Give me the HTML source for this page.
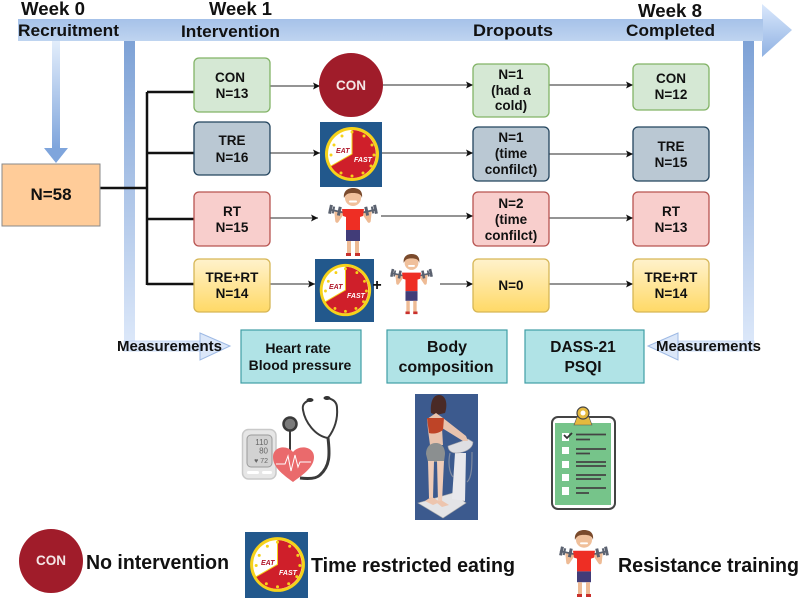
<!DOCTYPE html>
<html><head><meta charset="utf-8"><style>
html,body{margin:0;padding:0;background:#fff}
svg{display:block;filter:blur(.35px)}
text{font-family:"Liberation Sans",sans-serif;font-weight:700;fill:#111}
.b{font-size:13.5px;text-anchor:middle}
.h{font-size:17px}
.e{font-size:7px;font-style:italic;fill:#b0182a}
.f{font-size:7px;font-style:italic;fill:#fff}
</style></head><body>
<svg width="800" height="600" viewBox="0 0 800 600" xmlns="http://www.w3.org/2000/svg">
<defs>
<linearGradient id="ah" x1="0" y1="0" x2="0" y2="1"><stop offset="0" stop-color="#dae8fc"/><stop offset="1" stop-color="#8fb1e2"/></linearGradient>
<linearGradient id="ab" x1="0" y1="0" x2="0" y2="1"><stop offset="0" stop-color="#a6c2e9"/><stop offset="1" stop-color="#bfd4f0"/></linearGradient>
<linearGradient id="vd" x1="0" y1="0" x2="0" y2="1"><stop offset="0" stop-color="#e2edfb"/><stop offset="1" stop-color="#7fa5dc"/></linearGradient>
<linearGradient id="vb" x1="0" y1="0" x2="0" y2="1"><stop offset="0" stop-color="#7ea2d6"/><stop offset="1" stop-color="#dbe7f9"/></linearGradient>
<linearGradient id="y" x1="0" y1="0" x2="0" y2="1"><stop offset="0" stop-color="#fff2cc"/><stop offset="1" stop-color="#ffd966"/></linearGradient>
<marker id="m" markerWidth="8" markerHeight="8" refX="7" refY="3.500" orient="auto" markerUnits="userSpaceOnUse"><path d="M0 0L7 3.500L0 7L1.500 3.500Z" fill="#111"/></marker>
<symbol id="clock" viewBox="0 0 62 65" preserveAspectRatio="none">
<rect width="62" height="65" fill="#22588c"/>
<circle cx="32" cy="32" r="27" fill="#f6d21a"/>
<circle cx="32" cy="32" r="24" fill="#fff"/>
<path d="M32 32V8A24 24 0 1 1 11 44Z" fill="#cf1f2a"/>
<g fill="#f6d21a"><circle cx="44" cy="14" r="1.500"/><circle cx="52" cy="23" r="1.500"/><circle cx="54" cy="33" r="1.500"/><circle cx="51" cy="44" r="1.500"/><circle cx="43" cy="51" r="1.500"/><circle cx="32" cy="54" r="1.500"/><circle cx="21" cy="51" r="1.500"/><circle cx="22" cy="14" r="1.500"/><circle cx="14" cy="23" r="1.500"/><circle cx="11" cy="33" r="1.500"/><circle cx="32" cy="10" r="1.500"/></g>
<path d="M32 8V32L11 44" fill="none" stroke="#f6d21a" stroke-width="1"/>
</symbol>
<symbol id="man" viewBox="0 0 50 69" preserveAspectRatio="none">
<path d="M15 24L9 33L8 23M35 24L41 33L42 23" fill="none" stroke="#eebb95" stroke-width="3.500" stroke-linejoin="round"/>
<g fill="#5b6270" transform="rotate(12 8 22)"><rect x="1" y="22" width="14" height="1.800"/><rect x="1" y="18" width="3" height="9"/><rect x="4.500" y="19" width="2" height="7"/><rect x="10" y="18" width="3" height="9"/></g>
<g fill="#5b6270" transform="rotate(-12 42 22)"><rect x="35" y="22" width="14" height="1.800"/><rect x="37" y="18" width="3" height="9"/><rect x="43.500" y="19" width="2" height="7"/><rect x="46" y="18" width="3" height="9"/></g>
<path d="M14 21H36L35 28L32 29V42H18V29L15 28Z" fill="#ee2e24"/>
<path d="M18 42H32L32 53H18Z" fill="#413c78"/>
<path d="M21 53V65M29 53V65" stroke="#eebb95" stroke-width="4"/>
<path d="M18 65H23V68H18ZM27 65H32V68H27Z" fill="#c9302c"/>
<circle cx="25" cy="10" r="8" fill="#f0c09b"/>
<path d="M16 10C15 3 20 0 25 0C31 0 35 3 34 10C33 6 30 5 25 5C20 5 18 6 16 10Z" fill="#7a4a2c"/>
<rect x="21" y="12.500" width="8" height="2" rx="1" fill="#fff"/>
</symbol>
</defs>

<!-- main arrow -->
<path d="M762 4L792 30L762 57Z" fill="url(#ah)"/>
<rect x="18" y="19" width="745" height="22" fill="url(#ab)"/>
<!-- recruit arrow -->
<rect x="52" y="41" width="8" height="107" fill="url(#vd)"/>
<path d="M44 148H68L56 163Z" fill="#7fa5dc"/>
<!-- left/right measurement bars -->
<rect x="124" y="41" width="11" height="300" fill="url(#vb)"/>
<rect x="124" y="341" width="76" height="10" fill="#dbe7f9" stroke="#b9cff0" stroke-width=".7"/>
<path d="M200 333L230 346L200 360Z" fill="#dbe7f9" stroke="#9db9e4"/>
<rect x="743" y="41" width="11" height="300" fill="url(#vb)"/>
<rect x="678" y="341" width="76" height="10" fill="#dbe7f9" stroke="#b9cff0" stroke-width=".7"/>
<path d="M678 333L648 346L678 360Z" fill="#dbe7f9" stroke="#9db9e4"/>

<!-- thick connectors -->
<g stroke="#111" stroke-width="2.500" fill="none">
<path d="M100 188H147M147 92V285M147 92H194M147 153H194M147 219H194M147 284H194"/>
</g>
<!-- thin connectors -->
<g stroke="#555" stroke-width="1.200" fill="none">
<path d="M270 86H320" marker-end="url(#m)"/><path d="M383 85H473" marker-end="url(#m)"/><path d="M549 85H633" marker-end="url(#m)"/>
<path d="M270 153H320" marker-end="url(#m)"/><path d="M382 153H473" marker-end="url(#m)"/><path d="M549 154H633" marker-end="url(#m)"/>
<path d="M270 218H318" marker-end="url(#m)"/><path d="M381 216H473" marker-end="url(#m)"/><path d="M549 218H633" marker-end="url(#m)"/>
<path d="M270 284H315" marker-end="url(#m)"/><path d="M440 284H473" marker-end="url(#m)"/><path d="M549 284H633" marker-end="url(#m)"/>
</g>

<!-- N=58 -->
<rect x="2" y="164" width="98" height="62" fill="#ffcc99" stroke="#8a8a8a"/>
<text x="51" y="200" style="font-size:17px;text-anchor:middle">N=58</text>

<!-- boxes -->
<g stroke-width="1.300">
<rect x="194" y="58" width="76" height="54" rx="5" fill="#d5e8d4" stroke="#82b366"/>
<rect x="194" y="122" width="76" height="53" rx="5" fill="#bac8d3" stroke="#23445d"/>
<rect x="194" y="192" width="76" height="54" rx="5" fill="#f8cecc" stroke="#b85450"/>
<rect x="194" y="259" width="76" height="53" rx="5" fill="url(#y)" stroke="#d6b656"/>
<rect x="473" y="64" width="76" height="53" rx="5" fill="#d5e8d4" stroke="#82b366"/>
<rect x="473" y="127" width="76" height="54" rx="5" fill="#bac8d3" stroke="#23445d"/>
<rect x="473" y="192" width="76" height="54" rx="5" fill="#f8cecc" stroke="#b85450"/>
<rect x="473" y="259" width="76" height="53" rx="5" fill="url(#y)" stroke="#d6b656"/>
<rect x="633" y="64" width="76" height="46" rx="5" fill="#d5e8d4" stroke="#82b366"/>
<rect x="633" y="127" width="76" height="54" rx="5" fill="#bac8d3" stroke="#23445d"/>
<rect x="633" y="192" width="76" height="54" rx="5" fill="#f8cecc" stroke="#b85450"/>
<rect x="633" y="259" width="76" height="53" rx="5" fill="url(#y)" stroke="#d6b656"/>
</g>
<g stroke="#3f9ea5" stroke-width="1.200" fill="#b0e3e6">
<rect x="241" y="330" width="120" height="53"/>
<rect x="387" y="330" width="120" height="53"/>
<rect x="525" y="330" width="119" height="53"/>
</g>

<!-- icons -->
<circle cx="351" cy="85" r="32" fill="#a01c2a"/>
<text x="351" y="90" style="font-size:13.500px;text-anchor:middle;fill:#f4e6e6">CON</text>
<use href="#clock" x="320" y="122" width="62" height="65"/>
<text class="e" x="336" y="153">EAT</text><text class="f" x="354" y="162">FAST</text>
<use href="#man" x="328" y="188" width="50" height="69"/>
<use href="#clock" x="315" y="259" width="59" height="63"/>
<text class="e" x="329" y="289">EAT</text><text class="f" x="347" y="298">FAST</text>
<text x="377" y="290" style="font-size:16px;text-anchor:middle">+</text>
<use href="#man" x="390" y="254" width="43" height="61"/>

<circle cx="51" cy="561" r="32" fill="#a01c2a"/>
<text x="51" y="565" style="font-size:13.500px;text-anchor:middle;fill:#f4e6e6">CON</text>
<use href="#clock" x="245" y="532" width="63" height="66"/>
<text class="e" x="261" y="565">EAT</text><text class="f" x="279" y="575">FAST</text>
<use href="#man" x="559" y="530" width="50" height="68"/>

<!-- BP monitor + stethoscope -->
<rect x="242.500" y="429.500" width="33.500" height="49.500" rx="6" fill="#e6e6e6" stroke="#c9c9c9" stroke-width="1.500"/>
<rect x="247" y="435" width="25" height="32" rx="4" fill="#d2d2d2" stroke="#9a9a9a"/>
<text x="268" y="445" style="font-size:8px;font-weight:400;text-anchor:end;fill:#666">110</text>
<text x="268" y="453.500" style="font-size:8px;font-weight:400;text-anchor:end;fill:#666">80</text>
<text x="268" y="463" style="font-size:7px;font-weight:400;text-anchor:end;fill:#666">♥ 72</text>
<rect x="247" y="471" width="12" height="3" rx="1.500" fill="#fff"/><rect x="262" y="471" width="10" height="3" rx="1.500" fill="#fff"/>
<g fill="none" stroke="#3a3a3a" stroke-width="2.500">
<path d="M290 425V452" stroke-width="2"/>
<path d="M310 400C304 402 302 405 303 410C305 422 315 436 328 438C334 430 338 420 337 408C337 402 333 399 327 398" stroke-width="2"/>
<path d="M328 438C330 455 330 466 320 475C316 479 308 479 300 478" stroke-width="3"/>
</g>
<circle cx="290" cy="424" r="6.500" fill="#7a7a7a" stroke="#3a3a3a" stroke-width="2.500"/>
<ellipse cx="310" cy="400" rx="3.500" ry="2" fill="#333"/><ellipse cx="327" cy="398" rx="3.500" ry="2" fill="#333"/>
<path d="M293 482C282 474 273 467 273 457C273 447 286 444 293 452C300 444 314 447 314 457C314 467 304 474 293 482Z" fill="#ea6a6c"/>
<path d="M276 464H285L288 456L291 471L295 455L298 467L300 462H311" fill="none" stroke="#fff" stroke-width="1"/>

<!-- body composition -->
<rect x="415" y="394" width="63" height="126" fill="#3c5a8e"/>
<path d="M418 503L453 493L466 503L443 518Z" fill="#e4e4e6" stroke="#aaa" stroke-width=".6"/>
<path d="M455 453L466 453L465 501L452 499Z" fill="#e8e8ec"/>
<path d="M450 453C448 462 449 472 453 477M472 452C472 465 472 478 467 482" fill="none" stroke="#7e8aa0" stroke-width="1.200"/>
<path d="M448 446L468 439L473 442C473 449 464 453 456 453C451 453 448 450 448 446Z" fill="#dedee2" stroke="#9a9aa2" stroke-width=".6"/>
<path d="M431 413C430 402 433 395 439 395C446 395 448 404 445 413L436 415Z" fill="#4a2a26"/>
<path d="M427 419L436 413L443 418L466 436L468 441L463 441L442 428L443 445H430L428 430Z" fill="#e8c3ae"/>
<path d="M427 418H444L443 430C438 434 432 434 429 433Z" fill="#be4427"/>
<path d="M426 454C426 447 430 443 436 443C442 443 445 448 445 454L444 462H428Z" fill="#8b8f90"/>
<path d="M428 461H434L433 498L429 498Z" fill="#efccb8"/>
<path d="M437 461H444L442 502L438 502Z" fill="#efccb8"/>
<path d="M425 501L431 497L434 498L440 502L433 505Z" fill="#edc5ae"/>
<path d="M437 503L441 500L449 505L442 507Z" fill="#edc5ae"/>

<!-- clipboard -->
<rect x="552" y="417" width="63" height="92" rx="6" fill="#fff" stroke="#444" stroke-width="2"/>
<rect x="555" y="423" width="56" height="82" fill="#76c48a"/>
<path d="M574 425L577 417H589L592 425Z" fill="#e5b93e" stroke="#555" stroke-width=".6"/>
<circle cx="583" cy="413" r="6" fill="#e5b93e" stroke="#444" stroke-width="1.200"/>
<circle cx="583" cy="413" r="2.500" fill="#fff"/>
<g fill="#fff"><rect x="562" y="433" width="7" height="8"/><rect x="562" y="447" width="7" height="7"/><rect x="562" y="461" width="7" height="7"/><rect x="562" y="474" width="7" height="7"/><rect x="562" y="487" width="7" height="8"/></g>
<path d="M564 435L567 438L572 433" fill="none" stroke="#333" stroke-width="1.800"/>
<path d="M576 434.500H606M576 439.500H590M576 449H606M576 453.500H590M576 462H606M576 466H606M576 475H606M576 479H601M576 488H606M576 493H589" stroke="#444" stroke-width="1.800" fill="none"/>

<!-- header labels -->
<text x="21" y="15" style="font-size:18px" textLength="64" lengthAdjust="spacingAndGlyphs">Week 0</text>
<text x="209" y="15" style="font-size:18px" textLength="63" lengthAdjust="spacingAndGlyphs">Week 1</text>
<text x="638" y="17" style="font-size:18px" textLength="64" lengthAdjust="spacingAndGlyphs">Week 8</text>
<text class="h" x="18" y="36" textLength="101" lengthAdjust="spacingAndGlyphs">Recruitment</text>
<text class="h" x="181" y="37" textLength="99" lengthAdjust="spacingAndGlyphs">Intervention</text>
<text class="h" x="473" y="36" textLength="80" lengthAdjust="spacingAndGlyphs">Dropouts</text>
<text class="h" x="626" y="36" textLength="89" lengthAdjust="spacingAndGlyphs">Completed</text>

<!-- box labels -->
<text class="b" x="230" y="82">CON</text><text class="b" x="232" y="98">N=13</text>
<text class="b" x="232" y="145">TRE</text><text class="b" x="232" y="162">N=16</text>
<text class="b" x="232" y="216">RT</text><text class="b" x="232" y="232">N=15</text>
<text class="b" x="232" y="282">TRE+RT</text><text class="b" x="232" y="298">N=14</text>

<text class="b" x="511" y="79">N=1</text><text class="b" x="511" y="95">(had a</text><text class="b" x="511" y="110">cold)</text>
<text class="b" x="511" y="142">N=1</text><text class="b" x="511" y="158">(time</text><text class="b" x="511" y="174">confilct)</text>
<text class="b" x="511" y="208">N=2</text><text class="b" x="511" y="224">(time</text><text class="b" x="511" y="240">confilct)</text>
<text class="b" x="511" y="290">N=0</text>

<text class="b" x="671" y="83">CON</text><text class="b" x="671" y="99">N=12</text>
<text class="b" x="671" y="151">TRE</text><text class="b" x="671" y="167">N=15</text>
<text class="b" x="671" y="216">RT</text><text class="b" x="671" y="232">N=13</text>
<text class="b" x="671" y="282">TRE+RT</text><text class="b" x="671" y="298">N=14</text>

<!-- measurement labels -->
<text x="117" y="351" style="font-size:15px" textLength="105" lengthAdjust="spacingAndGlyphs">Measurements</text>
<text x="656" y="351" style="font-size:15px" textLength="105" lengthAdjust="spacingAndGlyphs">Measurements</text>
<text x="298" y="353" style="font-size:14px;text-anchor:middle">Heart rate</text>
<text x="300" y="370" style="font-size:14px;text-anchor:middle">Blood pressure</text>
<text x="447" y="352" style="font-size:16px;text-anchor:middle">Body</text>
<text x="446" y="372" style="font-size:16px;text-anchor:middle">composition</text>
<text x="583" y="352" style="font-size:15.500px;text-anchor:middle">DASS-21</text>
<text x="583" y="372" style="font-size:15.500px;text-anchor:middle">PSQI</text>

<!-- legend labels -->
<text x="86" y="569" style="font-size:20px" textLength="143" lengthAdjust="spacingAndGlyphs">No intervention</text>
<text x="311" y="572" style="font-size:20px" textLength="204" lengthAdjust="spacingAndGlyphs">Time restricted eating</text>
<text x="618" y="572" style="font-size:20px" textLength="181" lengthAdjust="spacingAndGlyphs">Resistance training</text>
</svg>
</body></html>
